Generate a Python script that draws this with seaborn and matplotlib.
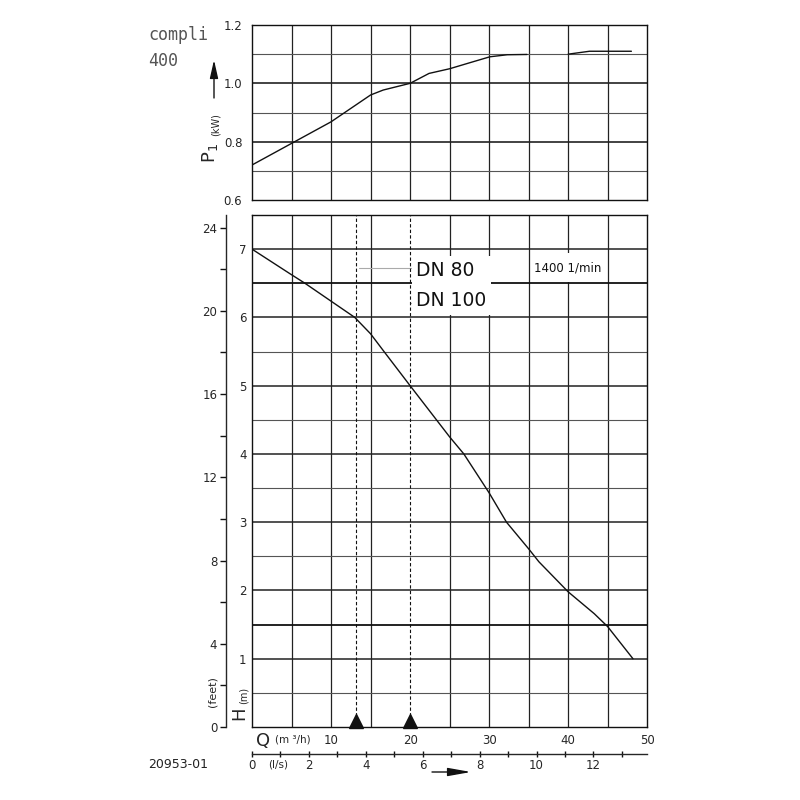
import matplotlib.pyplot as plt
import matplotlib.transforms as mtransforms
from matplotlib.ticker import MultipleLocator
import seaborn as sns
import pandas as pd

# power curve P1 (kW) against Q (m3/h); the drawing has a gap between 35 and 40
power_q_a = [0, 5.0, 10.0, 11.9, 15.0, 16.6, 20.0, 22.4, 25.0, 27.6, 30.1, 32.3, 34.8]
power_kw_a = [0.72, 0.794, 0.868, 0.903, 0.96, 0.977, 1.0, 1.034, 1.05, 1.071, 1.091, 1.098, 1.099]
power_q_b = [40.0, 42.7, 48.0]
power_kw_b = [1.10, 1.11, 1.11]

# head curve H (m) against Q (m3/h)
head_q = [0, 4.8, 6.7, 13.0, 15.0, 16.7, 20.0, 22.4, 25.0, 26.8, 30.0, 32.2, 35.0, 36.3, 40.0, 43.3, 45.0, 48.2]
head_m = [7.0, 6.64, 6.5, 6.0, 5.76, 5.5, 5.0, 4.64, 4.25, 4.0, 3.43, 3.0, 2.61, 2.42, 1.98, 1.66, 1.47, 1.0]

# minimum flow markers for the pipe sizes
dn_labels = ['DN 80', 'DN 100']
dn_q = [13.1, 20.0]
speed_label = '1400 1/min'

q_ticks = [10, 20, 30, 40, 50]
p_ticks = [0.6, 0.8, 1.0, 1.2]
h_ticks = [1, 2, 3, 4, 5, 6, 7]
feet_ticks = [0, 4, 8, 12, 16, 20, 24]
ls_ticks = [0, 2, 4, 6, 8, 10, 12]

sns.set_style('white')
plt.rcParams['font.family'] = ['DejaVu Sans']

fig = plt.figure(figsize=(8, 8), dpi=100)
ax_p = fig.add_axes([0.315, 0.75, 0.494, 0.21875])
ax_h = fig.add_axes([0.315, 0.09125, 0.494, 0.64])

grid_dark = '#222222'
grid_light = '#555555'

# ---- power panel ----
ax_p.set_xlim(0, 50)
ax_p.set_ylim(0.6, 1.2)
for v in range(5, 50, 5):
    ax_p.axvline(v, color=grid_dark, lw=0.9, zorder=1)
for i, h in enumerate([0.7, 0.8, 0.9, 1.0, 1.1]):
    major = i % 2 == 1
    ax_p.axhline(h, color=grid_dark if major else grid_light,
                 lw=1.2 if major else 0.8, zorder=1)
sns.lineplot(x=power_q_a, y=power_kw_a, ax=ax_p, color='#111111', lw=1.0, zorder=3)
sns.lineplot(x=power_q_b, y=power_kw_b, ax=ax_p, color='#111111', lw=1.0, zorder=3)
ax_p.set_xticks([])
ax_p.set_yticks(p_ticks)
ax_p.set_yticklabels([f'{t:.1f}' for t in p_ticks])
ax_p.tick_params(axis='y', length=0, pad=7, labelsize=8.5)
ax_p.set_xlabel('')
ax_p.set_ylabel('')
for s in ax_p.spines.values():
    s.set_color('#111111')
    s.set_linewidth(1.0)

# ---- head panel ----
ax_h.set_xlim(0, 50)
ax_h.set_ylim(0, 7.5)
for v in range(5, 50, 5):
    if v == 20:
        continue  # replaced by the DN 100 dashed line
    ax_h.axvline(v, color=grid_dark, lw=0.9, zorder=1 if v == 40 else 2)
for k in range(1, 15):
    h = k * 0.5
    if h in (6.5, 1.5):
        ax_h.axhline(h, color='#111111', lw=1.3, zorder=2)
    elif k % 2 == 0:
        ax_h.axhline(h, color=grid_dark, lw=1.1, zorder=2)
    else:
        ax_h.axhline(h, color=grid_light, lw=0.8, zorder=2)

sns.lineplot(x=head_q, y=head_m, ax=ax_h, color='#111111', lw=1.0, zorder=3)

for q in dn_q:
    ax_h.axvline(q, color='#111111', lw=0.8, ls=(0, (3, 2)), zorder=5)
ax_h.plot(dn_q, [0.09] * len(dn_q), ls='none', marker='^', ms=10,
          color='#111111', clip_on=False, zorder=6)

# leader lines and pipe labels
ax_h.plot([dn_q[0] + 0.4, dn_q[1] + 0.5], [6.72, 6.72], color='#aaaaaa', lw=0.8, zorder=3)
ax_h.plot([dn_q[1], dn_q[1] + 0.8], [6.21, 6.21], color='#aaaaaa', lw=0.8, zorder=3)
ax_h.text(20.8, 6.47, '\n'.join(dn_labels), ha='left', va='center', fontsize=13.5,
          linespacing=1.75, color='#111111', zorder=4,
          bbox=dict(boxstyle='square,pad=0.25', fc='white', ec='none'))
ax_h.text(40.0, 6.73, speed_label, ha='center', va='center', fontsize=8.5,
          color='#111111', zorder=1.5,
          bbox=dict(boxstyle='square,pad=0.7', fc='white', ec='none'))

ax_h.set_xticks(q_ticks)
ax_h.set_xticklabels([str(t) for t in q_ticks])
ax_h.set_yticks(h_ticks)
ax_h.set_yticklabels([str(t) for t in h_ticks])
ax_h.tick_params(axis='x', length=0, pad=5, labelsize=8.5)
ax_h.tick_params(axis='y', length=0, pad=4, labelsize=8.5)
ax_h.set_xlabel('')
ax_h.set_ylabel('')
for s in ax_h.spines.values():
    s.set_color('#111111')
    s.set_linewidth(1.0)

# feet axis on the left
feet = ax_h.secondary_yaxis(-0.0666, functions=(lambda m: m / 0.3048, lambda f: f * 0.3048))
feet.set_yticks(feet_ticks)
feet.set_yticklabels([str(t) for t in feet_ticks])
feet.yaxis.set_minor_locator(MultipleLocator(2))
feet.tick_params(which='both', left=True, direction='out', length=4, width=1,
                 labelsize=8.5, pad=2, color='#111111')
feet.spines['left'].set_linewidth(1.0)

# l/s axis below
ls_ax = ax_h.secondary_xaxis(-0.0527, functions=(lambda q: q / 3.6, lambda l: l * 3.6))
ls_ax.set_xticks(ls_ticks)
ls_ax.set_xticklabels([str(t) for t in ls_ticks])
ls_ax.xaxis.set_minor_locator(MultipleLocator(1))
ls_ax.tick_params(which='both', bottom=True, direction='inout', length=5, width=1,
                  labelsize=8.5, pad=1, color='#111111')
ls_ax.spines['bottom'].set_linewidth(1.0)

trans = mtransforms.blended_transform_factory(ax_h.transData, ax_h.transAxes)
ax_h.text(1.4, -0.027, 'Q', transform=trans, ha='center', va='center', fontsize=13)
ax_h.text(5.2, -0.025, '(m ³/h)', transform=trans, ha='center', va='center', fontsize=7.5)
ax_h.text(3.3, -0.074, '(l/s)', transform=trans, ha='center', va='center', fontsize=7.5)

# axis titles and arrows
fig.text(210 / 800, 1 - 153 / 800, r'$\mathregular{P_1}$', rotation=90,
         ha='center', va='center', fontsize=13)
fig.text(216 / 800, 1 - 125 / 800, '(kW)', rotation=90, ha='center', va='center', fontsize=7)
fig.text(239 / 800, 1 - 713 / 800, 'H', rotation=90, ha='center', va='center', fontsize=13)
fig.text(244 / 800, 1 - 695 / 800, '(m)', rotation=90, ha='center', va='center', fontsize=7)
fig.text(213 / 800, 1 - 692 / 800, '(feet)', rotation=90, ha='center', va='center', fontsize=8)

fig.add_artist(plt.Annotation(
    '', xy=(214 / 800, 1 - 60 / 800), xytext=(214 / 800, 1 - 98 / 800),
    xycoords='figure fraction', textcoords='figure fraction',
    arrowprops=dict(arrowstyle='-|>,head_length=1.1,head_width=0.25',
                    color='#111111', lw=1.0, shrinkA=0, shrinkB=0)))
fig.add_artist(plt.Annotation(
    '', xy=(471 / 800, 1 - 772 / 800), xytext=(432 / 800, 1 - 772 / 800),
    xycoords='figure fraction', textcoords='figure fraction',
    arrowprops=dict(arrowstyle='-|>,head_length=1.4,head_width=0.25',
                    color='#111111', lw=1.0, shrinkA=0, shrinkB=0)))

fig.text(148 / 800, 1 - 35 / 800, 'compli', ha='left', va='center', fontsize=12,
         color='#555555', family='DejaVu Sans Mono')
fig.text(148 / 800, 1 - 61 / 800, '400', ha='left', va='center', fontsize=12,
         color='#555555', family='DejaVu Sans Mono')
fig.text(148 / 800, 1 - 764 / 800, '20953-01', ha='left', va='center', fontsize=9,
         color='#222222')

fig.savefig('out.png', dpi=100, facecolor='white')
